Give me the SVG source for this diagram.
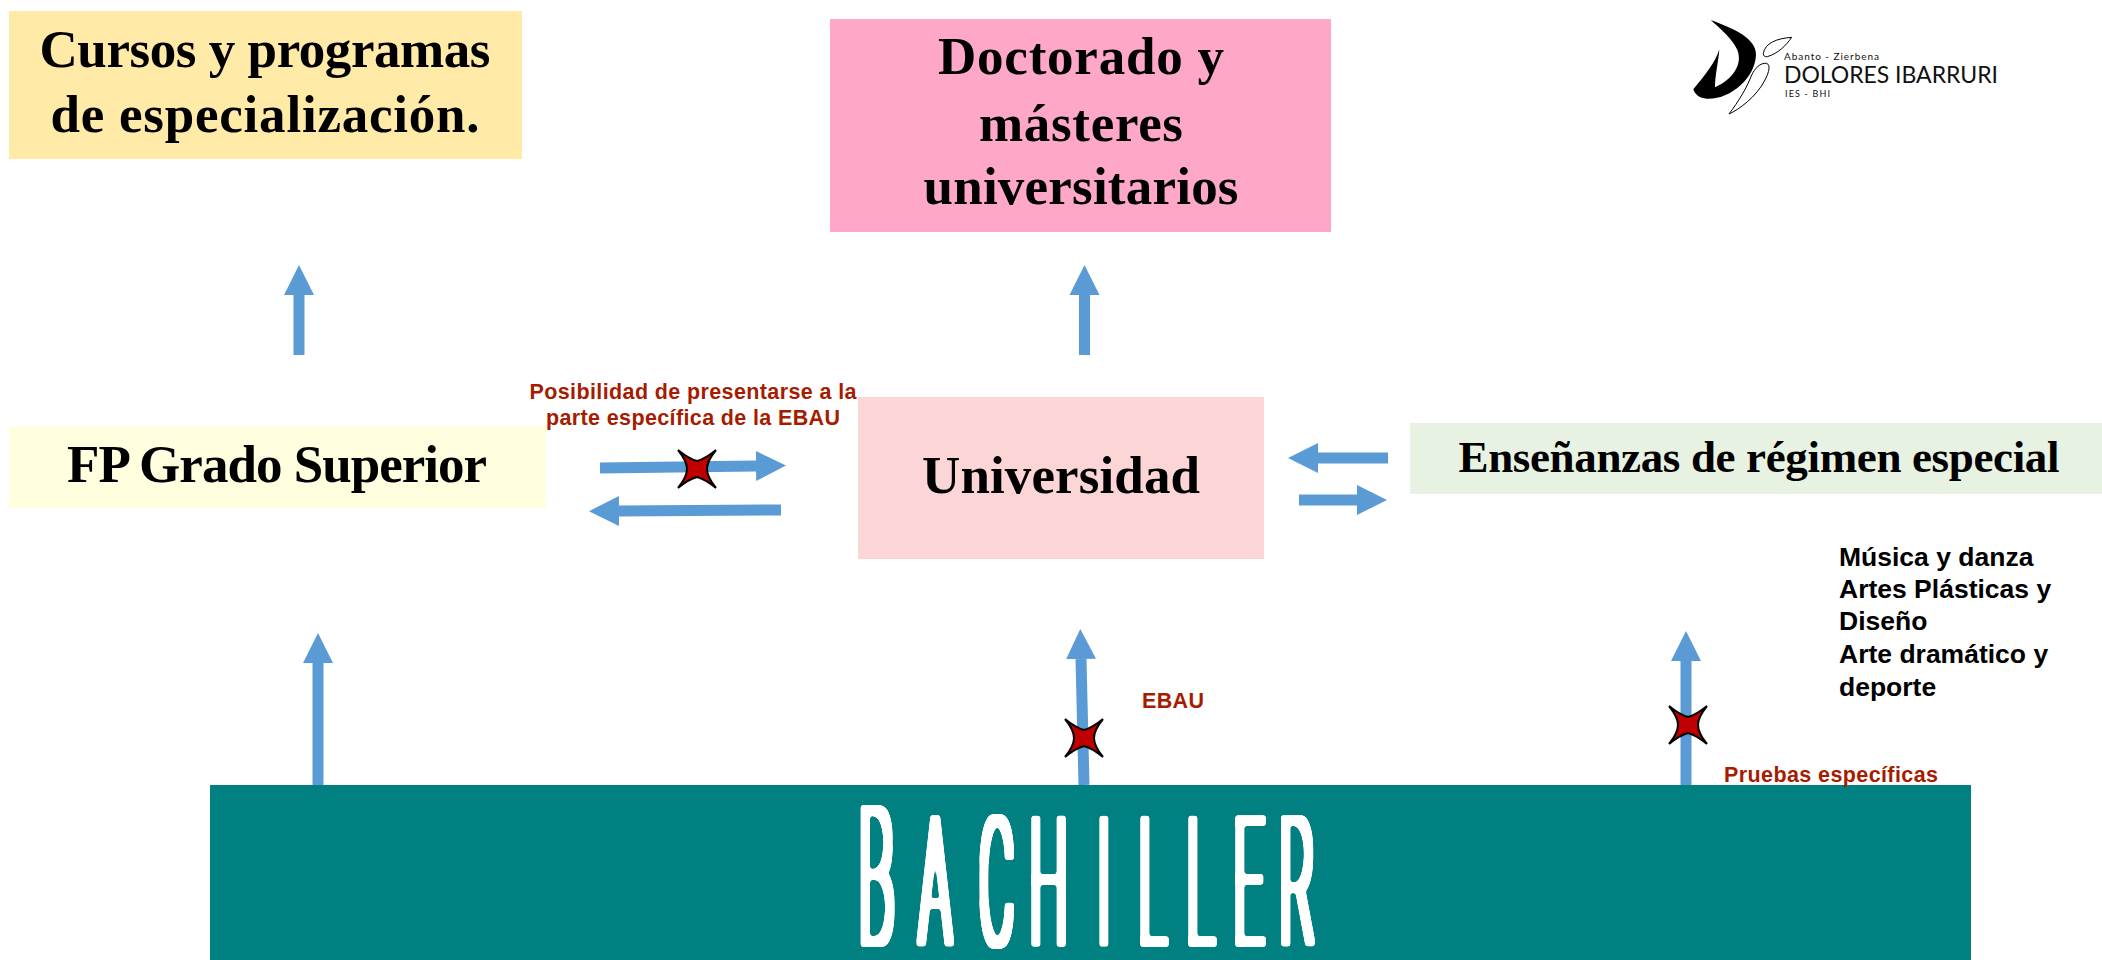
<svg xmlns="http://www.w3.org/2000/svg" width="2102" height="960" viewBox="0 0 2102 960">
<style>
.h{font-family:"Liberation Serif","Noto Sans CJK SC",serif;font-weight:700;fill:#000;text-anchor:middle}
.r{font-family:"Liberation Sans",Arial,sans-serif;font-weight:700;fill:#a61c00;font-size:21.500px}
.k{font-family:"Liberation Sans",Arial,sans-serif;font-weight:700;fill:#000;font-size:26.500px}
.l{font-family:"Lato","Open Sans",sans-serif;fill:#111}
.a{stroke:#5b9bd5;stroke-width:11;fill:none;marker-end:url(#ah)}
.s{fill:#c00000;stroke:#000;stroke-width:2}
.bach{font-family:"Roboto","Liberation Sans",sans-serif;font-weight:100;font-size:176px;fill:#fff}
</style>
<defs>
<marker id="ah" markerUnits="userSpaceOnUse" markerWidth="30" markerHeight="31" refX="0" refY="15" orient="auto" viewBox="0 0 30 30"><path d="M0 0L30 15L0 30Z" fill="#5b9bd5"/></marker>
<path id="star" class="s" d="M-19-19Q-8-10 0-8Q8-10 19-19Q10-8 10 0Q10 8 19 19Q8 10 0 8Q-8 10 -19 19Q-10 8 -10 0Q-10-8 -19-19Z"/>
<filter id="hand" filterUnits="userSpaceOnUse" x="840" y="790" width="500" height="170" color-interpolation-filters="sRGB">
<feMorphology operator="dilate" radius="3.500 3"/>
<feGaussianBlur stdDeviation="1.500"/>
<feComponentTransfer><feFuncA type="linear" slope="6" intercept="-2.500"/></feComponentTransfer>
</filter>
</defs>
<rect width="2102" height="960" fill="#fff"/>
<g id="connectors">
<path class="a" d="M299 355V295"/>
<path class="a" d="M1084.500 355V295"/>
<path class="a" d="M318 785V663"/>
<path class="a" d="M1084 785L1081 659"/>
<path class="a" d="M1686 785V661"/>
<path class="a" d="M600 468L756 466"/>
<path class="a" d="M781 510L619 511"/>
<path class="a" d="M1388 458H1318"/>
<path class="a" d="M1299 500H1357"/>
</g>
<g id="cursos"><rect x="9" y="11" width="513" height="148" fill="#ffeaa7"/>
<text class="h" font-size="53" x="265" y="67" textLength="451">Cursos y programas</text>
<text class="h" font-size="53" x="265" y="132" textLength="429">de especialización.</text></g>
<g id="doctorado"><rect x="830" y="19" width="501" height="213" fill="#ffa7c9"/>
<text class="h" font-size="53" x="1081" y="74" textLength="286">Doctorado y</text>
<text class="h" font-size="53" x="1081" y="141" textLength="204">másteres</text>
<text class="h" font-size="53" x="1081" y="204" textLength="315">universitarios</text></g>
<g id="fp"><rect x="9" y="426" width="537" height="82" fill="#ffffe0"/>
<text class="h" font-size="53" x="277" y="482" textLength="420">FP Grado Superior</text></g>
<g id="universidad"><rect x="858" y="397" width="406" height="162" fill="#fcd5d6"/>
<text class="h" font-size="53" x="1061" y="493" textLength="278">Universidad</text></g>
<g id="ensenanzas"><rect x="1410" y="423" width="692" height="71" fill="#e8f2e2"/>
<text class="h" font-size="45" x="1759" y="472" textLength="601">Enseñanzas de régimen especial</text></g>
<g id="bachiller"><rect x="210" y="785" width="1761" height="175" fill="#008080"/>
<g filter="url(#hand)"><text class="bach" transform="translate(0,944) scale(.3,1)"><tspan x="2863" font-size="192">B</tspan><tspan x="3065 3265 3433 3657 3797 3957 4113 4267">ACHILLER</tspan></text></g></g>
<g id="posibilidad"><text class="r" x="693" y="399" text-anchor="middle" textLength="327">Posibilidad de presentarse a la</text>
<text class="r" x="693" y="425" text-anchor="middle" textLength="294">parte específica de la EBAU</text></g>
<g id="ebau-label"><text class="r" x="1142" y="708" textLength="62">EBAU</text></g>
<g id="pruebas"><text class="r" x="1724" y="782" textLength="214">Pruebas específicas</text></g>
<g id="musica">
<text class="k" x="1839" y="566">Música y danza</text>
<text class="k" x="1839" y="598">Artes Plásticas y</text>
<text class="k" x="1839" y="630">Diseño</text>
<text class="k" x="1839" y="663">Arte dramático y</text>
<text class="k" x="1839" y="696">deporte</text></g>
<g id="stars">
<use href="#star" x="697" y="469"/>
<use href="#star" x="1084" y="738"/>
<use href="#star" x="1688" y="725"/></g>
<g id="logo">
<g transform="translate(1650,0) scale(.3333)">
<path d="M182 60C250 85 320 115 318 165C315 235 240 300 170 296C150 295 135 285 130 268C165 225 195 190 208 148C205 190 195 225 195 262C245 240 280 195 262 150C250 120 210 85 182 60Z" fill="#000"/>
<path d="M425 112C380 115 345 130 340 160C340 168 345 172 352 170C385 160 410 135 425 112Z" fill="#fff" stroke="#000" stroke-width="3"/>
<path d="M237 342C265 330 320 290 345 240C358 215 362 195 350 190C330 188 315 205 305 225C290 265 265 305 237 342Z" fill="#fff" stroke="#000" stroke-width="3"/></g>
<text class="l" font-size="10" x="1784" y="60" textLength="95">Abanto - Zierbena</text>
<text class="l" font-size="23" x="1784" y="83" textLength="214">DOLORES IBARRURI</text>
<text class="l" font-size="9" x="1785" y="97" textLength="45">IES - BHI</text>
</g>
</svg>
